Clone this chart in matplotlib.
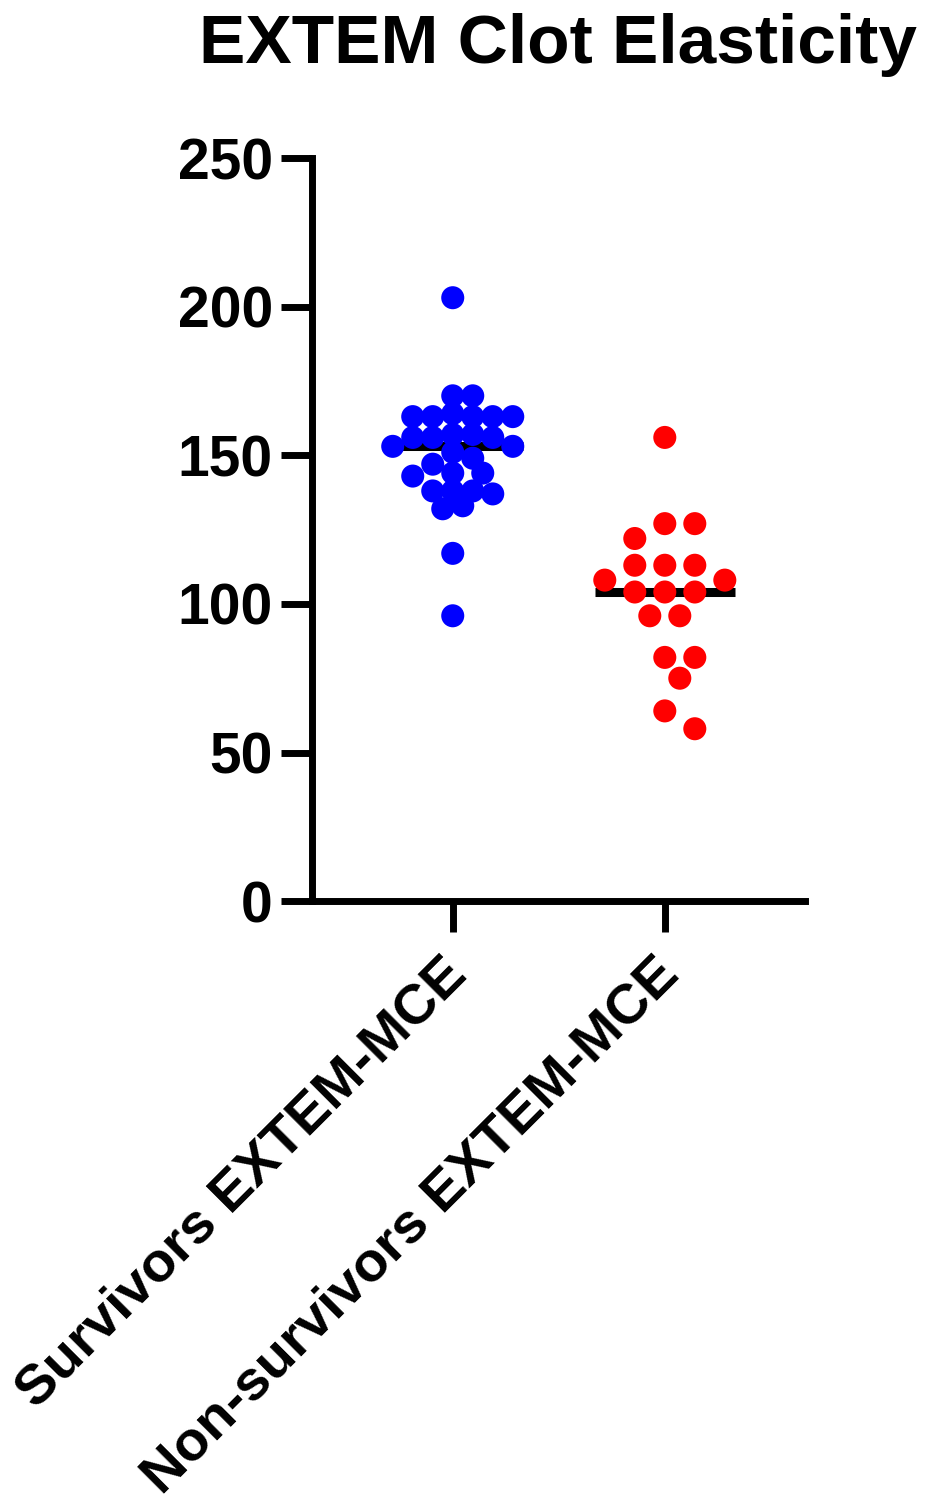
import numpy as np
import matplotlib.pyplot as plt
import matplotlib.transforms as mtransforms

plt.rcParams['font.family'] = ['Liberation Sans', 'DejaVu Sans']
plt.rcParams['font.weight'] = 'bold'

groups = ['Survivors EXTEM-MCE', 'Non-survivors EXTEM-MCE']
survivors = [203, 170, 170, 164, 163, 163, 163, 163, 163, 157, 157, 156, 156, 156,
             153, 153, 151, 149, 147, 144, 144, 143, 138, 138, 138, 137, 133, 132, 117, 96]
non_survivors = [156, 127, 127, 122, 113, 113, 113, 108, 108, 104, 104, 104,
                 96, 96, 82, 82, 75, 64, 58]
colors = ['#0000ff', '#ff0000']
yticks = [0, 50, 100, 150, 200, 250]


def swarm(vals, px_x, px_y, dmin, step, maxoff):
    # simple beeswarm in pixel space, returns x offsets in data units
    placed = []
    offs = []
    cands = [0.0]
    k = 1
    while k * step <= maxoff:
        cands += [k * step, -k * step]
        k += 1
    for v in vals:
        y = v * px_y
        best, bestd = 0.0, -1
        for c in cands:
            d = min([np.hypot(c - px, y - py) for px, py in placed] or [1e9])
            if d >= dmin:
                best = c
                break
            if d > bestd:
                best, bestd = c, d
        placed.append((best, y))
        offs.append(best / px_x)
    return np.array(offs)


fig = plt.figure(figsize=(9.25, 15.12), dpi=100)
ax = fig.add_axes([0.337, 0.404, 0.533, 0.4915])
ax.set_xlim(-0.665, 1.66)
ax.set_ylim(0, 250)

px_x = 212.0
px_y = 743.0 / 250
for i, vals in enumerate([survivors, non_survivors]):
    vals = np.array(vals, dtype=float)
    if i == 0:
        offs = swarm(vals, px_x, px_y, dmin=16, step=10, maxoff=60)
    else:
        offs = swarm(vals, px_x, px_y, dmin=25, step=15, maxoff=60)
    ax.scatter(i + offs, vals, s=275, color=colors[i], edgecolors='none', zorder=3, clip_on=False)
    med = np.median(vals)
    ax.plot([i - 0.33, i + 0.33], [med, med], color='black', lw=6.5, zorder=2, solid_capstyle='butt')

for s in ['top', 'right']:
    ax.spines[s].set_visible(False)
for s in ['left', 'bottom']:
    ax.spines[s].set_linewidth(5)
    ax.spines[s].set_capstyle('projecting')

ax.set_yticks(yticks)
ax.set_yticklabels([str(t) for t in yticks], fontsize=41, fontweight='bold')
ax.set_xticks([0, 1])
ax.set_xticklabels(groups, fontsize=40.5, fontweight='bold', rotation=45,
                   ha='right', va='top', rotation_mode='anchor')
ax.tick_params(axis='both', length=22, width=5)
ax.tick_params(axis='y', pad=6)
ax.tick_params(axis='x', pad=12)

# nudge the rotated labels a little to the left
shift = mtransforms.ScaledTranslation(-12 / 100, 0, fig.dpi_scale_trans)
for lab in ax.get_xticklabels():
    lab.set_transform(lab.get_transform() + shift)

fig.text(0.603, 0.97, 'EXTEM Clot Elasticity', fontsize=50, fontweight='bold',
         ha='center', va='center')

fig.savefig('out.png', dpi=100)
